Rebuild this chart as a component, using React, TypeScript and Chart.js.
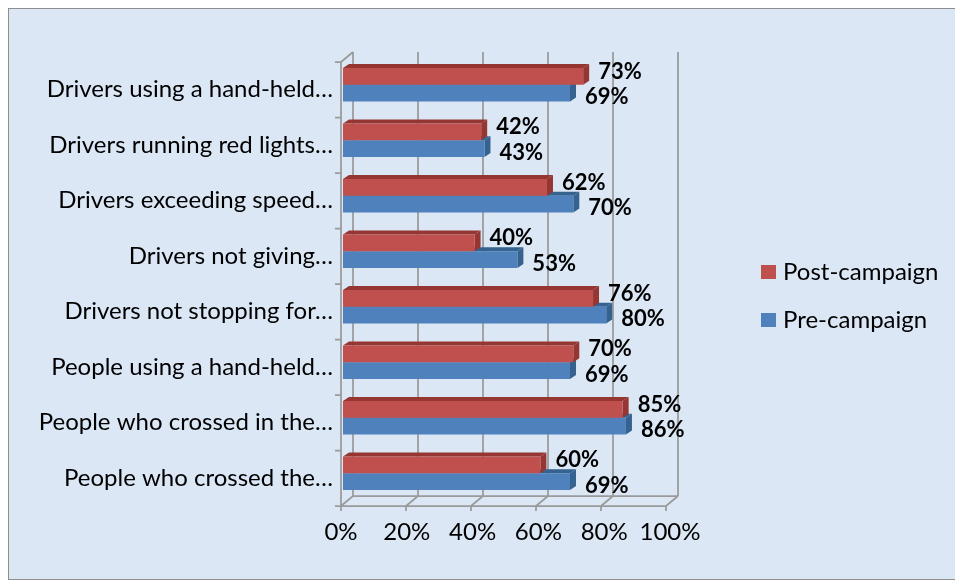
import React, { useEffect, useRef } from 'react';
import { Chart, registerables } from 'chart.js';

Chart.register(...registerables);

const categories = [
  'Drivers using a hand-held\u2026',
  'Drivers running red lights\u2026',
  'Drivers exceeding speed\u2026',
  'Drivers not giving\u2026',
  'Drivers not stopping for\u2026',
  'People using a hand-held\u2026',
  'People who crossed in the\u2026',
  'People who crossed the\u2026',
];
const postCampaign = [73, 42, 62, 40, 76, 70, 85, 60];
const preCampaign = [69, 43, 70, 53, 80, 69, 86, 69];
const seriesNames = ['Post-campaign', 'Pre-campaign'];
const xTickValues = [0, 20, 40, 60, 80, 100];

const FONT = 'Lato, "Noto Sans", sans-serif';
const FRONT = ['#c0504d', '#4f81bd'];
const DARK = ['#963633', '#35628f'];
const GRID = '#9a9a9a';

function frameGeom(chart: any) {
  const ca = chart.chartArea;
  const fl = ca.left - 2;
  const fw = ca.right - ca.left - 4;
  const ft = ca.top + 5;
  const fb = ca.bottom + 5;
  return { fl, fw, ft, fb, dx: 12, dy: 10 };
}

const framePlugin = {
  id: 'frame3d',
  beforeDatasetsDraw(chart: any) {
    const ctx = chart.ctx;
    const g = frameGeom(chart);
    ctx.save();
    ctx.strokeStyle = GRID;
    ctx.lineWidth = 1.75;
    ctx.beginPath();
    xTickValues.forEach((v) => {
      const xf = g.fl + (v / 100) * g.fw;
      const xb = xf + g.dx;
      ctx.moveTo(xb, g.ft - g.dy);
      ctx.lineTo(xb, g.fb - g.dy);
      ctx.moveTo(xf, g.fb);
      ctx.lineTo(xb, g.fb - g.dy);
      ctx.moveTo(xf, g.fb);
      ctx.lineTo(xf, g.fb + 5);
    });
    ctx.moveTo(g.fl, g.fb);
    ctx.lineTo(g.fl + g.fw, g.fb);
    ctx.moveTo(g.fl + g.dx, g.fb - g.dy);
    ctx.lineTo(g.fl + g.fw + g.dx, g.fb - g.dy);
    ctx.moveTo(g.fl, g.ft);
    ctx.lineTo(g.fl, g.fb);
    ctx.moveTo(g.fl, g.ft);
    ctx.lineTo(g.fl + g.dx, g.ft - g.dy);
    const n = categories.length;
    for (let k = 0; k <= n; k++) {
      const y = g.ft + (k * (g.fb - g.ft)) / n;
      ctx.moveTo(g.fl - 6, y);
      ctx.lineTo(g.fl, y);
    }
    ctx.stroke();

    const ddx = 6;
    const ddy = 4;
    for (let i = chart.data.datasets.length - 1; i >= 0; i--) {
      const meta = chart.getDatasetMeta(i);
      meta.data.forEach((bar: any) => {
        const p = bar.getProps(['x', 'y', 'base', 'height'], true);
        const x0 = p.base;
        const x1 = p.x;
        const top = p.y - p.height / 2;
        const bot = p.y + p.height / 2;
        ctx.fillStyle = DARK[i];
        ctx.beginPath();
        ctx.moveTo(x0, top);
        ctx.lineTo(x0 + ddx, top - ddy);
        ctx.lineTo(x1 + ddx, top - ddy);
        ctx.lineTo(x1, top);
        ctx.closePath();
        ctx.fill();
        ctx.beginPath();
        ctx.moveTo(x1, top);
        ctx.lineTo(x1 + ddx, top - ddy);
        ctx.lineTo(x1 + ddx, bot - ddy);
        ctx.lineTo(x1, bot);
        ctx.closePath();
        ctx.fill();
      });
    }
    ctx.restore();
  },
  afterDatasetsDraw(chart: any) {
    const ctx = chart.ctx;
    ctx.save();
    ctx.font = 'bold 22px ' + FONT;
    ctx.fillStyle = '#000';
    ctx.textAlign = 'left';
    ctx.textBaseline = 'middle';
    chart.data.datasets.forEach((ds: any, i: number) => {
      const meta = chart.getDatasetMeta(i);
      meta.data.forEach((bar: any, j: number) => {
        const p = bar.getProps(['x', 'y'], true);
        ctx.fillText(ds.data[j] + '%', p.x + 15, p.y + (i === 0 ? -5 : 4));
      });
    });
    ctx.font = '24px ' + FONT;
    seriesNames.forEach((name, i) => {
      const cy = 263 + i * 48;
      ctx.fillStyle = FRONT[i];
      ctx.fillRect(752, cy - 7, 15, 14);
      ctx.fillStyle = '#000';
      ctx.fillText(name, 774, cy);
    });
    ctx.restore();
  },
};

export default function App() {
  const ref = useRef<HTMLCanvasElement | null>(null);
  useEffect(() => {
    if (!ref.current) return;
    const chart = new Chart(ref.current, {
      type: 'bar',
      data: {
        labels: categories,
        datasets: [
          { label: seriesNames[0], data: postCampaign, backgroundColor: FRONT[0], barPercentage: 1, categoryPercentage: 0.6 },
          { label: seriesNames[1], data: preCampaign, backgroundColor: FRONT[1], barPercentage: 1, categoryPercentage: 0.6 },
        ],
      },
      options: {
        indexAxis: 'y',
        animation: false,
        responsive: false,
        layout: { padding: { top: 48, right: 285, bottom: 0, left: 0 } },
        plugins: { legend: { display: false }, tooltip: { enabled: false } },
        scales: {
          x: {
            min: 0,
            max: 100,
            ticks: {
              stepSize: 20,
              callback: (v: any) => v + '%',
              font: { family: FONT, size: 24 },
              color: '#000',
              padding: 17,
              labelOffset: -2,
              maxRotation: 0,
            },
            grid: { display: false, drawTicks: false },
            border: { display: false },
            afterFit: (s: any) => { s.height = 78; },
          },
          y: {
            ticks: {
              font: { family: FONT, size: 24 },
              color: '#000',
              padding: 10,
              labelOffset: 5,
              autoSkip: false,
            },
            grid: { display: false, drawTicks: false },
            border: { display: false },
            afterFit: (s: any) => { s.width = 334; },
          },
        },
      } as any,
      plugins: [framePlugin],
    });
    return () => chart.destroy();
  }, []);
  return (
    <div style={{ width: 948, height: 570, border: '1px solid #8e8e8e', background: '#dbe7f5' }}>
      <canvas ref={ref} width={948} height={570} style={{ display: 'block' }} />
    </div>
  );
}
